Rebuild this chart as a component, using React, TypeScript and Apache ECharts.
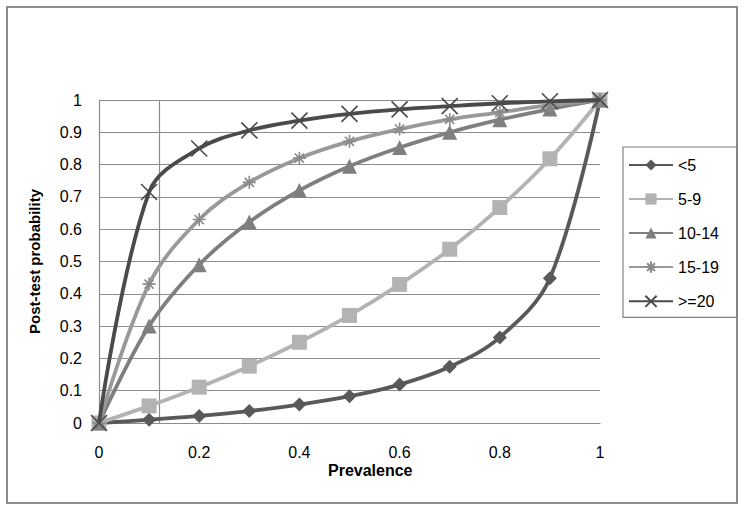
import React, { useEffect, useRef } from "react";
import * as echarts from "echarts";

const prevalence = [0, 0.1, 0.2, 0.3, 0.4, 0.5, 0.6, 0.7, 0.8, 0.9, 1];
const seriesNames = ["<5", "5-9", "10-14", "15-19", ">=20"];
const lt5 = [0, 0.01, 0.022, 0.037, 0.057, 0.083, 0.119, 0.174, 0.265, 0.448, 1];
const s5to9 = [0, 0.053, 0.111, 0.176, 0.25, 0.333, 0.429, 0.538, 0.667, 0.818, 1];
const s10to14 = [0, 0.3, 0.49, 0.622, 0.72, 0.795, 0.853, 0.9, 0.939, 0.972, 1];
const s15to19 = [0, 0.43, 0.63, 0.745, 0.82, 0.872, 0.91, 0.94, 0.962, 0.984, 1];
const ge20 = [0, 0.715, 0.85, 0.906, 0.936, 0.957, 0.971, 0.981, 0.99, 0.996, 1];
const refLineX = 0.116;

const values = [lt5, s5to9, s10to14, s15to19, ge20];
const colors = ["#595959", "#b3b3b3", "#7f7f7f", "#999999", "#4a4a4a"];
const markerColors = ["#595959", "#b3b3b3", "#7f7f7f", "#8a8a8a", "#4a4a4a"];
const symbols = [
  "diamond",
  "rect",
  "triangle",
  "path://M0,5L10,5M5,0L5,10M1.5,1.5L8.5,8.5M8.5,1.5L1.5,8.5",
  "path://M0,0L10,10M10,0L0,10",
];
const symbolSizes = [14, 15, 15, 13, 16];

export default function App() {
  const ref = useRef<HTMLDivElement>(null);
  useEffect(() => {
    if (!ref.current) return;
    const chart = echarts.init(ref.current, undefined, { renderer: "svg" });
    const font = "'Liberation Sans', Arial, sans-serif";
    const series: any[] = values.map((vals, i) => {
      const isPath = i >= 3;
      return {
        name: seriesNames[i],
        type: "line",
        smooth: 0.35,
        data: vals.map((v, j) => [prevalence[j], v]),
        symbol: symbols[i],
        symbolSize: symbolSizes[i],
        showAllSymbol: true,
        lineStyle: { color: colors[i], width: 3.8 },
        itemStyle: isPath
          ? { color: "none", borderColor: markerColors[i], borderWidth: 1.6 }
          : { color: markerColors[i], borderWidth: 0 },
        emphasis: { disabled: true },
        z: 3 + i,
      };
    });
    series[0].markLine = {
      silent: true,
      symbol: "none",
      label: { show: false },
      lineStyle: { color: "#8c8c8c", type: "solid", width: 1.2 },
      data: [{ xAxis: refLineX }],
      z: 1,
    };
    chart.setOption({
      animation: false,
      textStyle: { fontFamily: font },
      grid: { left: 99, top: 100, right: 144, bottom: 88 },
      xAxis: {
        type: "value",
        min: 0,
        max: 1,
        interval: 0.2,
        axisLine: { show: true, lineStyle: { color: "#8c8c8c", width: 1.2 } },
        axisTick: { show: false },
        splitLine: { show: false },
        axisLabel: { color: "#000", fontSize: 16, margin: 21, fontFamily: font },
      },
      yAxis: {
        type: "value",
        min: 0,
        max: 1,
        interval: 0.1,
        name: "Post-test probability",
        nameLocation: "middle",
        nameGap: 57,
        nameTextStyle: { color: "#000", fontSize: 15, fontWeight: "bold", fontFamily: font },
        axisLine: { show: true, lineStyle: { color: "#8c8c8c", width: 1.2 } },
        axisTick: { show: false },
        splitLine: { show: true, lineStyle: { color: "#8c8c8c", width: 1.2 } },
        axisLabel: { color: "#000", fontSize: 16, margin: 17, fontFamily: font },
      },
      legend: {
        orient: "vertical",
        left: 623,
        top: 147,
        padding: [10, 18, 8, 5],
        itemWidth: 44,
        itemHeight: 14,
        itemGap: 18,
        borderColor: "#808080",
        borderWidth: 1.2,
        textStyle: { color: "#000", fontSize: 16, fontFamily: font },
        data: seriesNames,
      },
      graphic: [
        {
          type: "rect",
          silent: true,
          shape: { x: 7, y: 7, width: 730, height: 496 },
          style: { fill: "none", stroke: "#8c8c8c", lineWidth: 2 },
        },
        {
          type: "text",
          left: 328,
          top: 462,
          style: {
            text: "Prevalence",
            fill: "#000",
            font: `bold 16px ${font}`,
          },
        },
      ],
      series,
    });
    return () => chart.dispose();
  }, []);
  return (
    <div
      ref={ref}
      style={{ position: "fixed", left: 0, top: 0, width: 744, height: 511, background: "#fff" }}
    />
  );
}
